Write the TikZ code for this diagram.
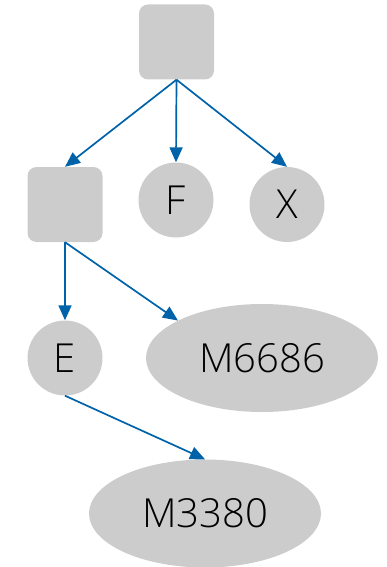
\documentclass[tikz,border=0pt]{standalone}
\usepackage{fontspec}
\setmainfont{Open Sans}[UprightFont=* Light]
\usetikzlibrary{shapes.geometric,arrows.meta}
\definecolor{nodegray}{HTML}{CCCCCC}
\definecolor{edgeblue}{HTML}{0062A8}
\tikzset{
  sq/.style={draw=none,fill=nodegray,rounded corners=9pt,minimum width=75pt,minimum height=75pt,inner sep=0pt},
  circ/.style={draw=none,fill=nodegray,circle,minimum size=75pt,inner sep=0pt,font=\fontsize{40}{42}\selectfont},
  ell/.style={draw=none,fill=nodegray,ellipse,minimum width=232pt,minimum height=108pt,inner sep=0pt,font=\fontsize{40}{42}\selectfont},
  edge/.style={draw=edgeblue,line width=1.7pt,-{Triangle[length=15pt,width=13pt]}}
}
\begin{document}
\begin{tikzpicture}[x=1pt,y=-1pt]
\useasboundingbox (0,0) rectangle (387,567);
\node[sq] (top) at (176.5,42) {};
\node[sq] (left) at (65,204.5) {};
\node[circ] (f) at (176,200) {F};
\node[circ] (x) at (287,204.5) {X};
\node[circ] (e) at (65,358) {E};
\node[ell] (m6686) at (262,358) {M6686};
\node[ell] (m3380) at (205,513.5) {M3380};
\draw[edge] (top.south) -- (left.north);
\draw[edge] (top.south) -- (f.north);
\draw[edge] (top.south) -- (x.north);
\draw[edge] (left.south) -- (e.north);
\draw[edge] (left.south) -- (m6686.156);
\draw[edge] (e.south) -- (m3380.north);
\end{tikzpicture}
\end{document}
